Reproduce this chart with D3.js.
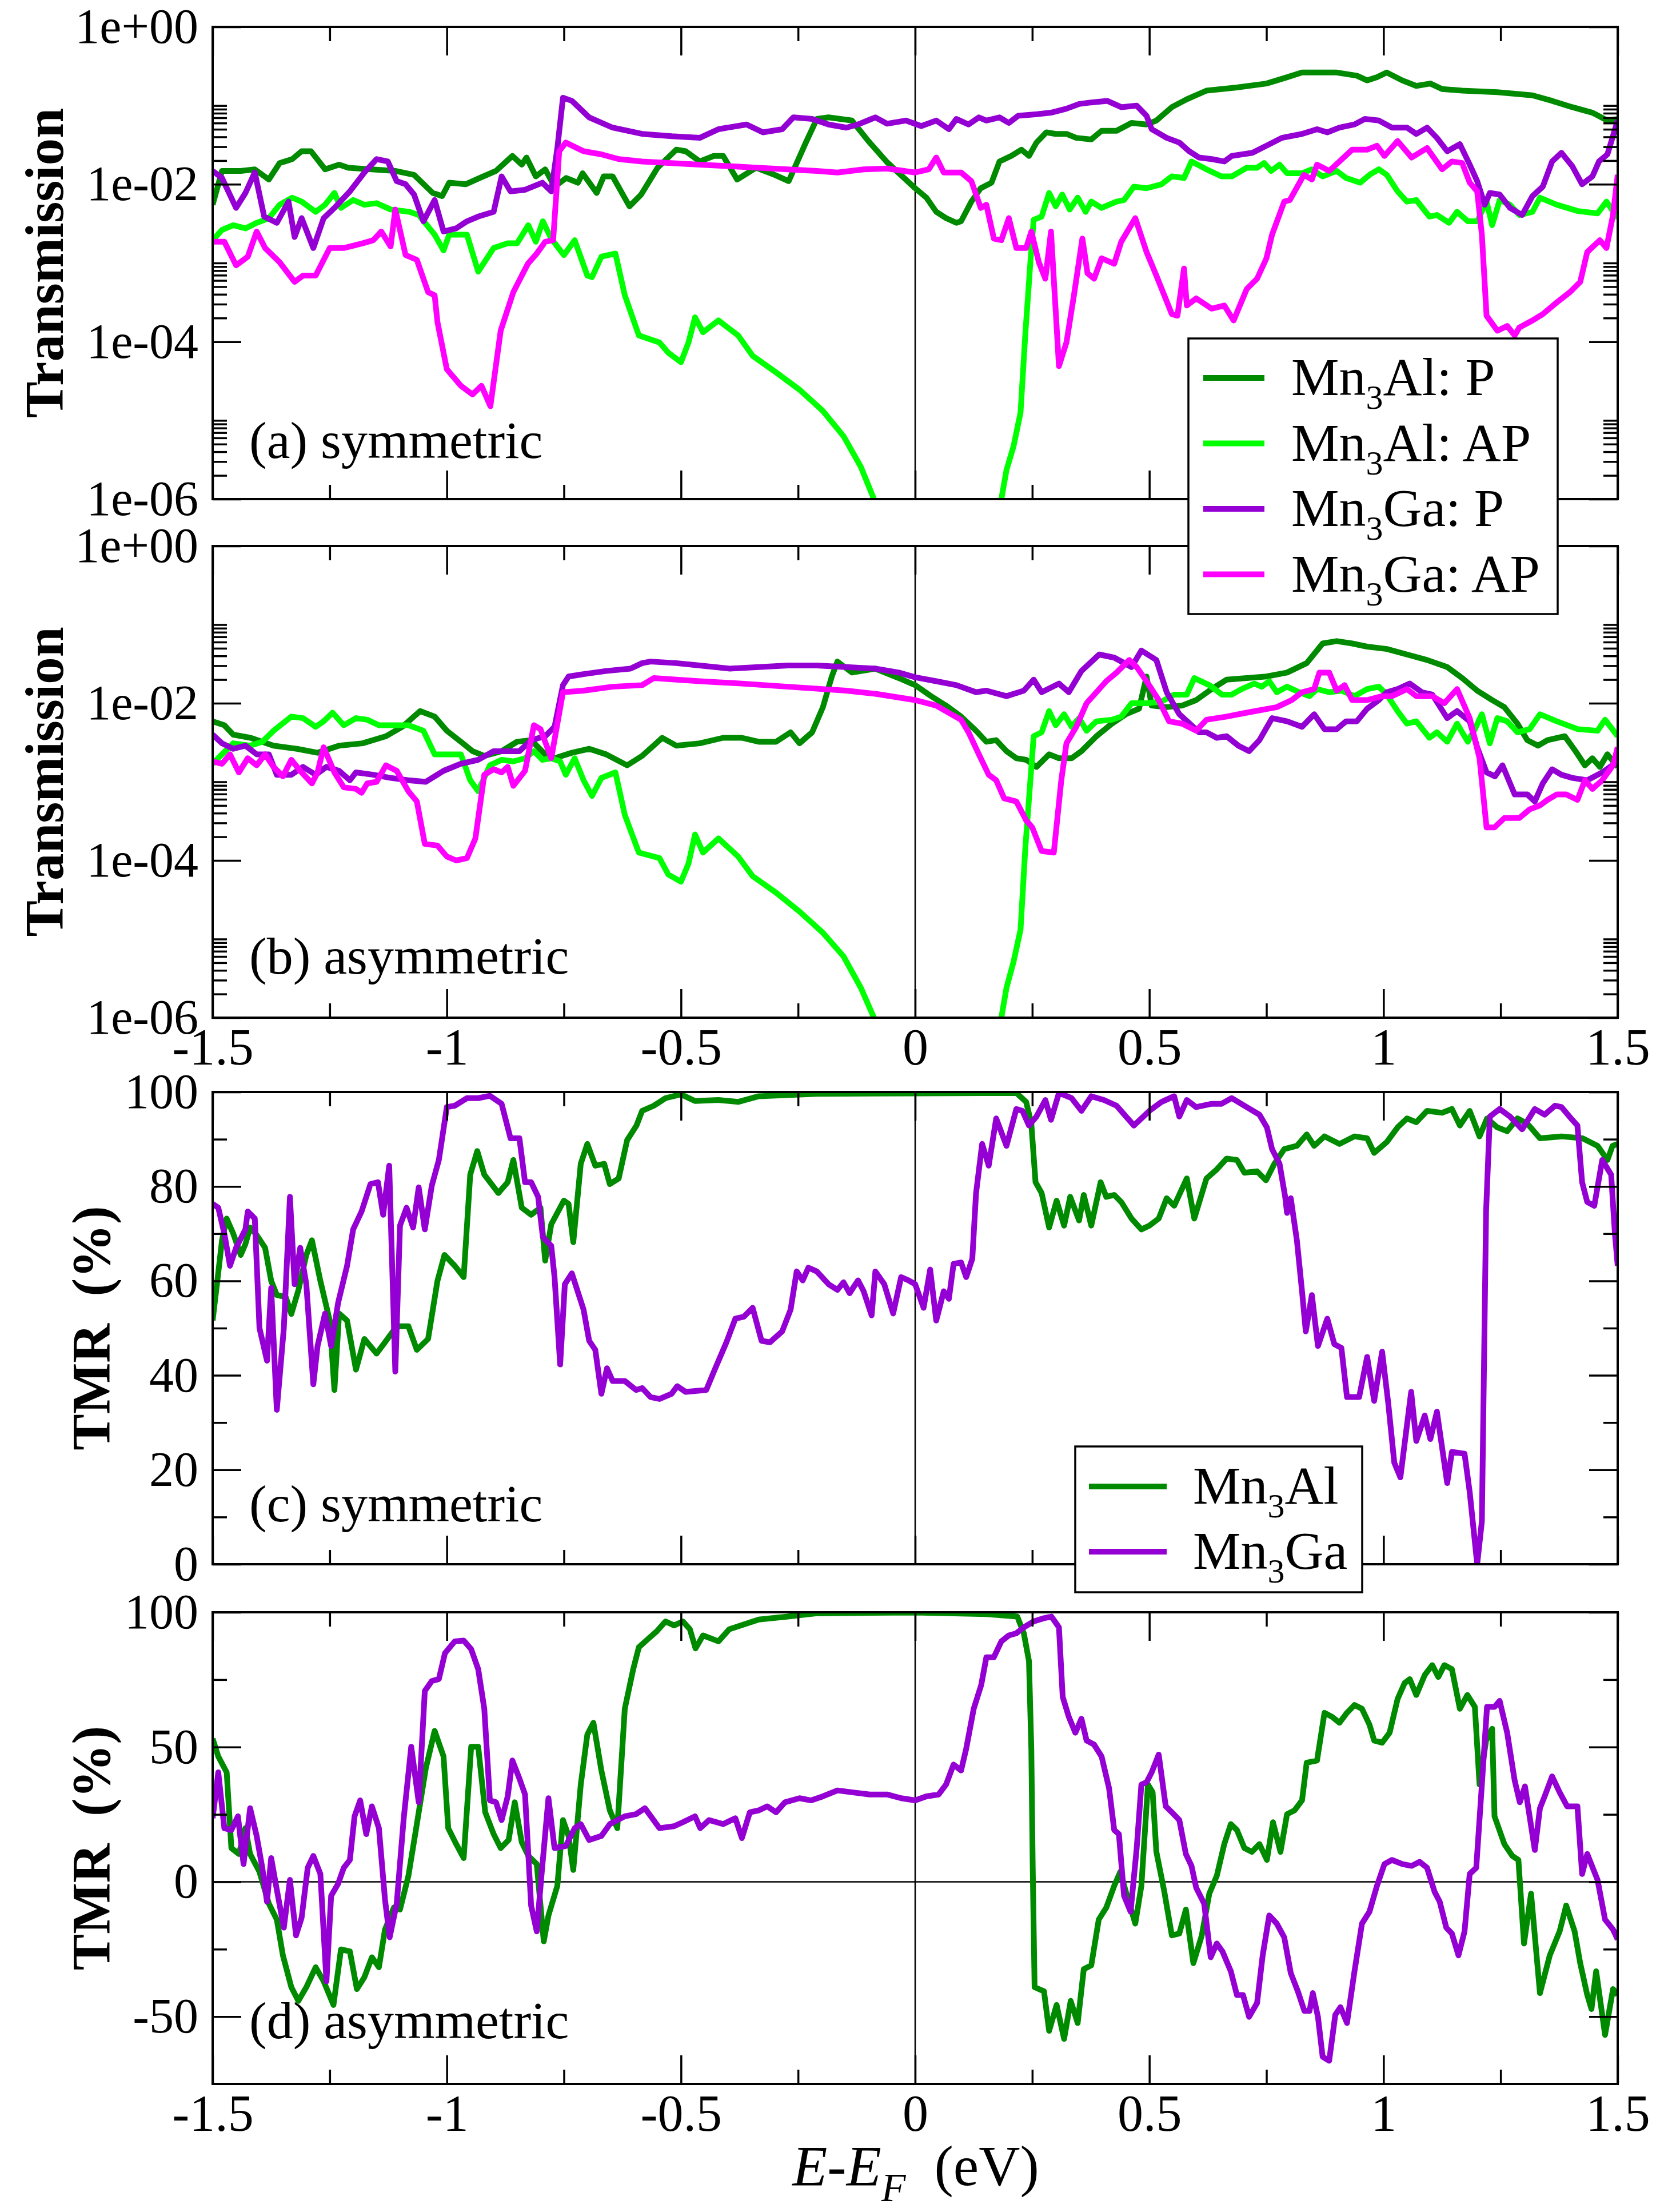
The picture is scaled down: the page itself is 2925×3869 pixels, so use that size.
<!DOCTYPE html>
<html>
<head>
<meta charset="utf-8">
<script src="https://cdn.jsdelivr.net/npm/d3@7/dist/d3.min.js"></script>
<style>
  body { margin: 0; background: #fff; }
  svg { display: block; }
</style>
</head>
<body>
<div id="chart"></div>
<script>
// ---- data: [E - E_F (eV), value]; transmission values are log10(T) ----
// (a) symmetric transmission
const symAlP = [[-1.5,-2.26],[-1.48,-1.83],[-1.44,-1.83],[-1.41,-1.81],[-1.38,-1.94],[-1.357,-1.73],[-1.33,-1.68],[-1.31,-1.58],[-1.29,-1.58],[-1.26,-1.81],[-1.23,-1.75],[-1.21,-1.79],[-1.16,-1.81],[-1.11,-1.83],[-1.07,-1.88],[-1.03,-2.11],[-1.01,-2.15],[-0.995,-1.98],[-0.96,-2.0],[-0.93,-1.92],[-0.895,-1.83],[-0.86,-1.64],[-0.84,-1.75],[-0.83,-1.66],[-0.81,-1.90],[-0.79,-1.81],[-0.77,-2.03],[-0.745,-1.92],[-0.72,-1.98],[-0.71,-1.86],[-0.68,-2.11],[-0.665,-1.90],[-0.646,-1.90],[-0.61,-2.28],[-0.585,-2.13],[-0.55,-1.79],[-0.51,-1.56],[-0.49,-1.58],[-0.46,-1.71],[-0.43,-1.64],[-0.41,-1.64],[-0.38,-1.94],[-0.34,-1.79],[-0.30,-1.88],[-0.27,-1.96],[-0.235,-1.49],[-0.21,-1.17],[-0.185,-1.15],[-0.135,-1.19],[-0.10,-1.45],[-0.06,-1.72],[0.0,-2.05],[0.024,-2.17],[0.045,-2.35],[0.066,-2.43],[0.088,-2.49],[0.098,-2.47],[0.12,-2.22],[0.14,-2.05],[0.163,-1.98],[0.18,-1.71],[0.205,-1.64],[0.227,-1.56],[0.243,-1.64],[0.259,-1.47],[0.28,-1.34],[0.30,-1.36],[0.323,-1.36],[0.344,-1.41],[0.376,-1.43],[0.398,-1.32],[0.43,-1.32],[0.462,-1.22],[0.494,-1.24],[0.515,-1.19],[0.548,-1.02],[0.58,-0.92],[0.622,-0.81],[0.687,-0.77],[0.75,-0.72],[0.794,-0.64],[0.826,-0.58],[0.90,-0.58],[0.943,-0.62],[0.965,-0.68],[0.986,-0.64],[1.007,-0.58],[1.04,-0.68],[1.07,-0.75],[1.10,-0.72],[1.125,-0.79],[1.168,-0.81],[1.243,-0.83],[1.318,-0.87],[1.36,-0.94],[1.403,-1.02],[1.446,-1.09],[1.478,-1.19],[1.50,-1.17]];
const symAlAP = [[-1.5,-2.71],[-1.48,-2.58],[-1.456,-2.52],[-1.43,-2.56],[-1.406,-2.49],[-1.38,-2.43],[-1.357,-2.26],[-1.33,-2.17],[-1.31,-2.22],[-1.28,-2.35],[-1.26,-2.26],[-1.24,-2.11],[-1.226,-2.30],[-1.20,-2.20],[-1.176,-2.26],[-1.15,-2.24],[-1.12,-2.32],[-1.08,-2.35],[-1.06,-2.39],[-1.026,-2.64],[-1.007,-2.84],[-0.995,-2.64],[-0.957,-2.64],[-0.933,-3.11],[-0.90,-2.81],[-0.87,-2.75],[-0.85,-2.75],[-0.826,-2.52],[-0.81,-2.73],[-0.795,-2.47],[-0.777,-2.69],[-0.75,-2.90],[-0.727,-2.71],[-0.70,-3.16],[-0.69,-3.18],[-0.67,-2.92],[-0.64,-2.88],[-0.62,-3.41],[-0.59,-3.92],[-0.546,-4.01],[-0.527,-4.14],[-0.50,-4.26],[-0.484,-4.01],[-0.47,-3.69],[-0.453,-3.88],[-0.42,-3.73],[-0.378,-3.92],[-0.347,-4.18],[-0.297,-4.39],[-0.247,-4.61],[-0.197,-4.88],[-0.153,-5.20],[-0.116,-5.59],[-0.088,-6.0],[-0.08,-6.3],[0.05,null],[0.178,-6.3],[0.184,-6.0],[0.195,-5.63],[0.21,-5.33],[0.225,-4.90],[0.235,-3.92],[0.246,-2.99],[0.253,-2.45],[0.27,-2.41],[0.286,-2.11],[0.30,-2.28],[0.314,-2.13],[0.33,-2.32],[0.347,-2.17],[0.364,-2.35],[0.376,-2.22],[0.398,-2.30],[0.43,-2.22],[0.446,-2.20],[0.467,-2.03],[0.494,-2.05],[0.526,-2.0],[0.548,-1.90],[0.574,-1.92],[0.59,-1.71],[0.622,-1.81],[0.654,-1.90],[0.676,-1.90],[0.708,-1.79],[0.73,-1.79],[0.745,-1.73],[0.76,-1.83],[0.778,-1.75],[0.794,-1.86],[0.826,-1.86],[0.847,-1.81],[0.87,-1.90],[0.90,-1.83],[0.92,-1.92],[0.95,-1.98],[0.97,-1.88],[0.99,-1.81],[1.007,-1.88],[1.03,-2.09],[1.05,-2.22],[1.07,-2.20],[1.098,-2.41],[1.114,-2.39],[1.14,-2.49],[1.157,-2.35],[1.18,-2.47],[1.20,-2.47],[1.22,-2.22],[1.232,-2.52],[1.248,-2.20],[1.27,-2.26],[1.29,-2.39],[1.318,-2.35],[1.334,-2.17],[1.37,-2.26],[1.415,-2.34],[1.457,-2.37],[1.476,-2.22],[1.50,-2.43]];
const symGaP = [[-1.5,-1.83],[-1.48,-1.92],[-1.45,-2.30],[-1.43,-2.11],[-1.41,-1.85],[-1.39,-2.41],[-1.363,-2.49],[-1.338,-2.22],[-1.325,-2.67],[-1.31,-2.43],[-1.285,-2.81],[-1.263,-2.43],[-1.24,-2.30],[-1.207,-2.09],[-1.176,-1.85],[-1.15,-1.68],[-1.126,-1.71],[-1.107,-1.96],[-1.088,-2.0],[-1.07,-2.13],[-1.05,-2.47],[-1.026,-2.20],[-1.007,-2.60],[-0.98,-2.56],[-0.957,-2.47],[-0.933,-2.41],[-0.90,-2.35],[-0.883,-1.90],[-0.864,-2.09],[-0.833,-2.07],[-0.796,-1.98],[-0.777,-2.09],[-0.764,-1.54],[-0.752,-0.90],[-0.733,-0.94],[-0.696,-1.15],[-0.646,-1.28],[-0.583,-1.36],[-0.52,-1.39],[-0.46,-1.41],[-0.42,-1.30],[-0.36,-1.24],[-0.325,-1.34],[-0.284,-1.30],[-0.26,-1.15],[-0.22,-1.17],[-0.185,-1.24],[-0.147,-1.28],[-0.122,-1.24],[-0.085,-1.15],[-0.06,-1.23],[-0.02,-1.19],[0.013,-1.26],[0.045,-1.19],[0.072,-1.30],[0.088,-1.17],[0.114,-1.24],[0.136,-1.15],[0.152,-1.19],[0.18,-1.15],[0.20,-1.22],[0.22,-1.13],[0.26,-1.11],[0.29,-1.09],[0.323,-1.04],[0.35,-0.98],[0.376,-0.96],[0.41,-0.94],[0.44,-1.02],[0.473,-1.0],[0.494,-1.13],[0.505,-1.30],[0.537,-1.41],[0.564,-1.47],[0.585,-1.58],[0.606,-1.66],[0.633,-1.68],[0.66,-1.71],[0.676,-1.64],[0.72,-1.60],[0.75,-1.51],[0.783,-1.41],[0.826,-1.36],[0.858,-1.30],[0.88,-1.34],[0.906,-1.28],[0.938,-1.24],[0.96,-1.17],[0.99,-1.19],[1.018,-1.28],[1.05,-1.28],[1.07,-1.36],[1.093,-1.28],[1.114,-1.41],[1.136,-1.58],[1.163,-1.49],[1.184,-1.75],[1.20,-1.96],[1.216,-2.26],[1.227,-2.11],[1.248,-2.13],[1.27,-2.30],[1.296,-2.39],[1.318,-2.15],[1.34,-2.03],[1.36,-1.71],[1.38,-1.60],[1.403,-1.77],[1.424,-2.0],[1.446,-1.90],[1.46,-1.71],[1.478,-1.62],[1.50,-1.19]];
const symGaAP = [[-1.5,-2.73],[-1.475,-2.73],[-1.45,-3.03],[-1.425,-2.92],[-1.406,-2.60],[-1.388,-2.81],[-1.357,-2.99],[-1.325,-3.24],[-1.307,-3.16],[-1.28,-3.16],[-1.25,-2.81],[-1.22,-2.81],[-1.18,-2.75],[-1.157,-2.71],[-1.14,-2.60],[-1.12,-2.79],[-1.11,-2.32],[-1.088,-2.90],[-1.064,-2.96],[-1.04,-3.37],[-1.026,-3.41],[-1.02,-3.75],[-1.0,-4.35],[-0.97,-4.56],[-0.945,-4.67],[-0.926,-4.56],[-0.907,-4.82],[-0.885,-3.86],[-0.858,-3.37],[-0.827,-3.01],[-0.808,-2.88],[-0.79,-2.73],[-0.773,-2.71],[-0.76,-1.58],[-0.746,-1.47],[-0.708,-1.58],[-0.67,-1.62],[-0.633,-1.68],[-0.583,-1.71],[-0.46,-1.75],[-0.334,-1.79],[-0.21,-1.83],[-0.166,-1.85],[-0.11,-1.81],[-0.06,-1.80],[0.0,-1.85],[0.029,-1.81],[0.045,-1.66],[0.061,-1.85],[0.098,-1.85],[0.12,-1.96],[0.14,-2.30],[0.152,-2.26],[0.168,-2.69],[0.184,-2.71],[0.20,-2.43],[0.216,-2.81],[0.237,-2.81],[0.248,-2.60],[0.264,-2.99],[0.278,-3.20],[0.29,-2.60],[0.307,-4.31],[0.323,-4.01],[0.339,-3.41],[0.357,-2.69],[0.368,-3.13],[0.382,-3.20],[0.398,-2.94],[0.425,-3.01],[0.44,-2.73],[0.47,-2.43],[0.494,-2.86],[0.515,-3.16],[0.548,-3.65],[0.56,-3.67],[0.574,-3.07],[0.58,-3.54],[0.60,-3.45],[0.633,-3.58],[0.66,-3.54],[0.68,-3.73],[0.708,-3.33],[0.73,-3.20],[0.75,-2.94],[0.762,-2.64],[0.788,-2.22],[0.80,-2.20],[0.83,-1.88],[0.847,-1.94],[0.858,-1.75],[0.884,-1.83],[0.906,-1.71],[0.933,-1.56],[0.965,-1.56],[0.986,-1.51],[1.002,-1.64],[1.03,-1.45],[1.06,-1.66],[1.093,-1.54],[1.125,-1.81],[1.146,-1.71],[1.168,-1.73],[1.184,-1.98],[1.20,-2.09],[1.21,-2.64],[1.22,-3.67],[1.243,-3.86],[1.264,-3.80],[1.28,-3.92],[1.29,-3.82],[1.318,-3.73],[1.34,-3.65],[1.37,-3.50],[1.398,-3.37],[1.42,-3.24],[1.435,-2.86],[1.462,-2.71],[1.476,-2.81],[1.49,-2.39],[1.50,-1.88]];

// (b) asymmetric transmission
const asymAlP = [[-1.5,-2.23],[-1.475,-2.28],[-1.456,-2.40],[-1.419,-2.44],[-1.37,-2.54],[-1.32,-2.58],[-1.276,-2.63],[-1.23,-2.54],[-1.18,-2.51],[-1.13,-2.42],[-1.095,-2.30],[-1.057,-2.10],[-1.026,-2.17],[-1.0,-2.35],[-0.97,-2.49],[-0.945,-2.61],[-0.92,-2.67],[-0.883,-2.61],[-0.85,-2.49],[-0.82,-2.47],[-0.79,-2.65],[-0.77,-2.70],[-0.733,-2.63],[-0.696,-2.58],[-0.66,-2.65],[-0.615,-2.79],[-0.583,-2.67],[-0.54,-2.44],[-0.51,-2.54],[-0.46,-2.51],[-0.41,-2.44],[-0.37,-2.44],[-0.334,-2.49],[-0.297,-2.49],[-0.266,-2.37],[-0.247,-2.51],[-0.22,-2.37],[-0.197,-2.05],[-0.178,-1.66],[-0.166,-1.47],[-0.135,-1.61],[-0.085,-1.56],[-0.035,-1.68],[0.0,-1.77],[0.034,-1.91],[0.066,-2.03],[0.098,-2.17],[0.13,-2.35],[0.152,-2.49],[0.173,-2.47],[0.195,-2.61],[0.216,-2.70],[0.237,-2.72],[0.259,-2.81],[0.286,-2.65],[0.307,-2.70],[0.334,-2.70],[0.355,-2.61],[0.387,-2.42],[0.42,-2.26],[0.45,-2.14],[0.478,-2.07],[0.494,-1.66],[0.505,-2.03],[0.537,-2.05],[0.57,-2.03],[0.60,-1.96],[0.633,-1.82],[0.665,-1.70],[0.708,-1.68],[0.75,-1.66],[0.794,-1.61],[0.836,-1.49],[0.87,-1.24],[0.90,-1.21],[0.933,-1.24],[0.965,-1.28],[1.007,-1.31],[1.05,-1.38],[1.093,-1.45],[1.136,-1.54],[1.168,-1.68],[1.2,-1.84],[1.232,-1.96],[1.258,-2.05],[1.286,-2.26],[1.307,-2.47],[1.33,-2.54],[1.35,-2.47],[1.387,-2.42],[1.41,-2.61],[1.43,-2.79],[1.446,-2.70],[1.462,-2.81],[1.478,-2.65],[1.50,-2.81]];
const asymAlAP = [[-1.5,-2.77],[-1.48,-2.65],[-1.456,-2.51],[-1.42,-2.54],[-1.394,-2.49],[-1.37,-2.35],[-1.332,-2.17],[-1.307,-2.19],[-1.28,-2.30],[-1.263,-2.23],[-1.244,-2.12],[-1.22,-2.28],[-1.194,-2.19],[-1.17,-2.21],[-1.145,-2.28],[-1.113,-2.28],[-1.082,-2.28],[-1.05,-2.35],[-1.026,-2.65],[-1.0,-2.65],[-0.97,-2.65],[-0.95,-2.98],[-0.933,-3.12],[-0.908,-2.79],[-0.883,-2.72],[-0.858,-2.74],[-0.833,-2.70],[-0.814,-2.61],[-0.796,-2.72],[-0.777,-2.70],[-0.758,-2.74],[-0.746,-2.91],[-0.727,-2.70],[-0.708,-2.98],[-0.69,-3.18],[-0.67,-2.95],[-0.64,-2.88],[-0.62,-3.42],[-0.59,-3.90],[-0.546,-3.97],[-0.527,-4.18],[-0.50,-4.27],[-0.484,-4.04],[-0.47,-3.67],[-0.453,-3.90],[-0.42,-3.72],[-0.378,-3.95],[-0.347,-4.20],[-0.297,-4.41],[-0.247,-4.65],[-0.197,-4.92],[-0.153,-5.22],[-0.116,-5.62],[-0.088,-6.0],[-0.08,-6.3],[0.05,null],[0.178,-6.3],[0.184,-6.0],[0.195,-5.62],[0.21,-5.29],[0.225,-4.88],[0.235,-3.86],[0.246,-2.98],[0.253,-2.42],[0.27,-2.37],[0.286,-2.10],[0.30,-2.28],[0.318,-2.14],[0.334,-2.30],[0.35,-2.19],[0.366,-2.35],[0.387,-2.23],[0.42,-2.21],[0.44,-2.17],[0.462,-2.0],[0.494,-2.0],[0.526,-1.98],[0.553,-1.89],[0.58,-1.89],[0.596,-1.68],[0.628,-1.77],[0.655,-1.89],[0.676,-1.89],[0.697,-1.82],[0.724,-1.75],[0.74,-1.79],[0.756,-1.72],[0.772,-1.86],[0.794,-1.79],[0.82,-1.86],[0.842,-1.91],[0.858,-1.82],[0.884,-1.86],[0.91,-1.84],[0.938,-1.91],[0.965,-1.82],[0.99,-1.79],[1.007,-1.89],[1.03,-2.10],[1.05,-2.26],[1.07,-2.23],[1.098,-2.44],[1.114,-2.37],[1.136,-2.49],[1.157,-2.26],[1.18,-2.49],[1.195,-2.33],[1.21,-2.14],[1.227,-2.51],[1.243,-2.19],[1.264,-2.23],[1.286,-2.37],[1.312,-2.33],[1.334,-2.14],[1.37,-2.23],[1.415,-2.33],[1.457,-2.35],[1.473,-2.21],[1.50,-2.42]];
const asymGaP = [[-1.5,-2.40],[-1.48,-2.51],[-1.456,-2.58],[-1.43,-2.54],[-1.406,-2.65],[-1.38,-2.65],[-1.363,-2.91],[-1.332,-2.91],[-1.307,-2.81],[-1.28,-2.91],[-1.257,-2.81],[-1.23,-2.86],[-1.207,-2.98],[-1.194,-2.88],[-1.157,-2.91],[-1.12,-2.95],[-1.082,-2.98],[-1.045,-3.0],[-1.007,-2.86],[-0.97,-2.77],[-0.933,-2.72],[-0.90,-2.61],[-0.87,-2.61],[-0.845,-2.61],[-0.82,-2.47],[-0.79,-2.42],[-0.77,-2.30],[-0.752,-1.77],[-0.74,-1.66],[-0.708,-1.63],[-0.66,-1.59],[-0.608,-1.56],[-0.583,-1.49],[-0.565,-1.47],[-0.51,-1.49],[-0.46,-1.52],[-0.396,-1.56],[-0.334,-1.54],[-0.272,-1.52],[-0.21,-1.52],[-0.147,-1.54],[-0.085,-1.56],[-0.035,-1.61],[0.0,-1.67],[0.045,-1.72],[0.088,-1.77],[0.13,-1.86],[0.152,-1.84],[0.195,-1.91],[0.232,-1.84],[0.253,-1.70],[0.27,-1.86],[0.307,-1.75],[0.328,-1.86],[0.355,-1.59],[0.393,-1.38],[0.425,-1.42],[0.462,-1.54],[0.483,-1.33],[0.515,-1.45],[0.537,-1.86],[0.564,-2.14],[0.59,-2.28],[0.606,-2.37],[0.622,-2.37],[0.644,-2.44],[0.665,-2.42],[0.69,-2.54],[0.713,-2.61],[0.735,-2.47],[0.762,-2.19],[0.794,-2.23],[0.826,-2.30],[0.852,-2.14],[0.874,-2.33],[0.90,-2.33],[0.92,-2.23],[0.943,-2.23],[0.965,-2.07],[0.99,-1.96],[1.007,-1.86],[1.03,-1.82],[1.056,-1.75],[1.082,-1.86],[1.104,-1.89],[1.136,-2.19],[1.157,-2.10],[1.184,-2.23],[1.20,-2.56],[1.22,-2.88],[1.238,-2.93],[1.254,-2.79],[1.28,-3.16],[1.307,-3.16],[1.323,-3.25],[1.34,-3.02],[1.36,-2.84],[1.38,-2.91],[1.403,-2.95],[1.435,-2.98],[1.467,-2.88],[1.50,-2.74]];
const asymGaAP = [[-1.5,-2.74],[-1.48,-2.77],[-1.463,-2.65],[-1.444,-2.88],[-1.425,-2.70],[-1.406,-2.79],[-1.388,-2.65],[-1.37,-2.81],[-1.35,-2.93],[-1.332,-2.72],[-1.313,-2.86],[-1.288,-3.02],[-1.276,-2.88],[-1.263,-2.56],[-1.24,-2.88],[-1.22,-3.07],[-1.194,-3.09],[-1.182,-3.14],[-1.17,-3.02],[-1.15,-3.0],[-1.13,-2.79],[-1.107,-2.86],[-1.082,-3.12],[-1.064,-3.25],[-1.047,-3.79],[-1.02,-3.81],[-1.0,-3.95],[-0.98,-4.0],[-0.957,-3.97],[-0.939,-3.72],[-0.92,-2.91],[-0.90,-2.84],[-0.883,-2.88],[-0.87,-2.81],[-0.858,-3.05],[-0.833,-2.86],[-0.814,-2.28],[-0.80,-2.33],[-0.777,-2.70],[-0.752,-1.86],[-0.708,-1.84],[-0.646,-1.79],[-0.583,-1.77],[-0.558,-1.68],[-0.51,-1.70],[-0.46,-1.72],[-0.37,-1.75],[-0.272,-1.79],[-0.147,-1.84],[-0.085,-1.88],[0.0,-1.96],[0.045,-2.03],[0.077,-2.14],[0.098,-2.21],[0.114,-2.37],[0.136,-2.65],[0.157,-2.91],[0.173,-2.98],[0.19,-3.21],[0.216,-3.25],[0.237,-3.49],[0.25,-3.58],[0.27,-3.88],[0.296,-3.90],[0.312,-2.98],[0.323,-2.51],[0.344,-2.30],[0.366,-2.0],[0.387,-1.86],[0.408,-1.72],[0.43,-1.61],[0.457,-1.45],[0.473,-1.54],[0.494,-1.72],[0.52,-1.96],[0.542,-2.23],[0.57,-2.26],[0.60,-2.35],[0.622,-2.21],[0.665,-2.17],[0.708,-2.12],[0.772,-2.05],[0.804,-1.96],[0.826,-1.86],[0.852,-1.82],[0.863,-1.61],[0.884,-1.61],[0.90,-1.84],[0.917,-1.77],[0.933,-1.96],[0.965,-1.96],[0.997,-1.91],[1.018,-1.91],[1.05,-1.82],[1.07,-1.91],[1.104,-1.91],[1.13,-2.0],[1.157,-1.82],[1.184,-2.19],[1.205,-2.70],[1.22,-3.58],[1.237,-3.58],[1.258,-3.46],[1.29,-3.46],[1.312,-3.35],[1.334,-3.30],[1.35,-3.23],[1.37,-3.16],[1.39,-3.16],[1.414,-3.23],[1.43,-2.98],[1.446,-3.09],[1.467,-2.98],[1.49,-2.79],[1.50,-2.56]];

// (c) symmetric TMR (%)
const tmrSymAl = [[-1.5,51.6],[-1.49,60],[-1.48,68.6],[-1.47,73.2],[-1.456,70],[-1.44,65.5],[-1.43,67.8],[-1.42,71.3],[-1.406,69.7],[-1.388,67],[-1.375,60],[-1.363,57],[-1.344,56.6],[-1.332,53],[-1.317,58],[-1.30,65.5],[-1.288,68.6],[-1.27,60],[-1.25,51.6],[-1.24,36.9],[-1.23,53.1],[-1.213,51.6],[-1.194,41.2],[-1.176,47.7],[-1.15,44.6],[-1.132,47],[-1.107,50.4],[-1.082,50.4],[-1.064,45.4],[-1.04,47.7],[-1.02,60],[-1.005,65.5],[-0.983,63.2],[-0.964,60.8],[-0.95,82.5],[-0.935,87.5],[-0.92,82.5],[-0.89,78.6],[-0.87,80.9],[-0.858,85.6],[-0.84,75.5],[-0.82,74],[-0.80,75.5],[-0.79,64.3],[-0.777,72],[-0.75,77],[-0.74,76.3],[-0.73,68.2],[-0.714,84.8],[-0.70,89],[-0.683,84.4],[-0.664,84.8],[-0.652,80.5],[-0.633,81.7],[-0.615,89.8],[-0.595,92.9],[-0.583,96],[-0.558,97.1],[-0.533,98.7],[-0.50,99.5],[-0.47,98.1],[-0.42,98.3],[-0.378,97.9],[-0.334,99.1],[-0.21,99.6],[0.0,99.7],[0.216,99.8],[0.237,97.9],[0.248,93.3],[0.257,80.9],[0.27,78.6],[0.286,71.3],[0.302,77],[0.318,71.7],[0.331,77.8],[0.35,72.8],[0.36,78.2],[0.376,71.7],[0.396,80.9],[0.408,77.8],[0.425,78.2],[0.44,76.7],[0.462,73.2],[0.483,70.9],[0.50,71.7],[0.52,73.2],[0.537,77.5],[0.553,75.9],[0.58,81.7],[0.596,73.2],[0.622,81.7],[0.644,83.6],[0.665,85.9],[0.687,85.6],[0.703,82.9],[0.73,83.2],[0.749,81.3],[0.767,84.8],[0.788,87.9],[0.815,88.6],[0.836,91],[0.852,88.6],[0.874,90.6],[0.906,89],[0.938,90.6],[0.965,90.2],[0.98,87.1],[1.007,89.4],[1.03,92.5],[1.05,94.4],[1.07,93.6],[1.093,96],[1.125,95.6],[1.146,96.4],[1.163,92.9],[1.184,96],[1.205,90.6],[1.221,94.4],[1.243,92.5],[1.264,91.7],[1.286,94.4],[1.307,93.3],[1.334,90.2],[1.38,90.6],[1.425,90.2],[1.457,88.6],[1.478,85.6],[1.489,88.6],[1.50,89]];
const tmrSymGa = [[-1.5,76.3],[-1.488,75.5],[-1.475,70],[-1.463,63.2],[-1.45,67],[-1.43,70.9],[-1.425,74.7],[-1.41,73.2],[-1.40,50],[-1.384,43.1],[-1.375,58.5],[-1.363,32.7],[-1.348,50],[-1.335,77.8],[-1.325,59.3],[-1.313,67],[-1.30,59.3],[-1.285,38.1],[-1.276,46.2],[-1.26,53.1],[-1.247,46.2],[-1.232,55.4],[-1.213,63.2],[-1.20,70.9],[-1.182,74.7],[-1.163,80.5],[-1.147,80.9],[-1.136,74],[-1.123,84.4],[-1.11,40.8],[-1.10,71.7],[-1.086,75.5],[-1.072,71.3],[-1.06,79.8],[-1.047,70.9],[-1.032,80.2],[-1.017,85.6],[-1.0,96.8],[-0.983,97.1],[-0.957,98.7],[-0.933,98.7],[-0.908,99.2],[-0.883,97.5],[-0.864,90.2],[-0.845,90.2],[-0.833,80.9],[-0.82,80.9],[-0.805,77.8],[-0.795,69.3],[-0.777,67.4],[-0.77,60.8],[-0.758,42.3],[-0.748,59.3],[-0.733,61.6],[-0.708,53.9],[-0.696,47.3],[-0.683,45.4],[-0.67,36.1],[-0.658,41.5],[-0.646,38.8],[-0.62,38.8],[-0.596,36.9],[-0.583,37.3],[-0.565,35.4],[-0.546,35],[-0.52,36.1],[-0.508,37.7],[-0.49,36.5],[-0.446,36.9],[-0.428,41.2],[-0.403,47],[-0.384,52],[-0.366,52.4],[-0.347,54.3],[-0.328,47.3],[-0.31,47],[-0.284,49.3],[-0.266,53.9],[-0.253,62],[-0.24,60.1],[-0.228,62.8],[-0.21,62],[-0.185,59.3],[-0.166,58.1],[-0.153,59.7],[-0.14,57.4],[-0.122,60.1],[-0.11,57.8],[-0.093,52.7],[-0.085,62],[-0.066,59.3],[-0.047,53.1],[-0.03,60.8],[-0.014,60.1],[0.0,59.3],[0.018,54.3],[0.032,62.4],[0.045,51.6],[0.061,57.8],[0.072,56.2],[0.082,63.6],[0.098,63.9],[0.109,60.8],[0.122,64.7],[0.13,78.6],[0.143,89],[0.157,84.4],[0.173,94.4],[0.195,88.6],[0.216,96.4],[0.229,96],[0.243,92.9],[0.259,94.8],[0.278,98.3],[0.29,94.1],[0.307,99.8],[0.334,98.7],[0.355,96],[0.376,99.1],[0.403,98.3],[0.43,97.1],[0.467,92.9],[0.50,96],[0.526,97.9],[0.553,99.1],[0.564,94.8],[0.58,98.3],[0.60,96.8],[0.633,97.5],[0.654,97.5],[0.676,98.7],[0.708,96.8],[0.735,95.2],[0.751,92.5],[0.762,87.9],[0.778,84.8],[0.79,77.8],[0.794,74.4],[0.802,77.5],[0.815,68.6],[0.826,57.8],[0.834,49.3],[0.847,57],[0.86,46.2],[0.88,52],[0.895,46.6],[0.91,45.8],[0.922,35.4],[0.948,35.4],[0.965,43.9],[0.98,34.6],[0.997,45],[1.01,34.2],[1.023,21.5],[1.036,18.4],[1.059,36.5],[1.07,26.1],[1.088,31.5],[1.10,26.5],[1.114,32.3],[1.136,17.2],[1.146,23.8],[1.173,23.4],[1.184,15.3],[1.20,0],[1.21,9.1],[1.219,74.7],[1.227,94.8],[1.248,96.4],[1.27,94.8],[1.296,92.1],[1.323,96.4],[1.344,95.2],[1.366,97.1],[1.38,96.8],[1.403,94.1],[1.414,92.9],[1.424,80.9],[1.435,76.7],[1.45,75.9],[1.467,85.6],[1.486,82.5],[1.494,70.1],[1.50,63.2]];

// (d) asymmetric TMR (%)
const tmrAsymAl = [[-1.5,53.1],[-1.488,46.5],[-1.47,40.6],[-1.46,12.5],[-1.444,10.3],[-1.43,19.9],[-1.42,10.3],[-1.40,3.7],[-1.38,-8.1],[-1.363,-14],[-1.35,-27.3],[-1.332,-39.1],[-1.317,-44.2],[-1.30,-39.1],[-1.28,-31.7],[-1.263,-36.9],[-1.242,-45.7],[-1.226,-25.1],[-1.207,-25.8],[-1.192,-39.8],[-1.176,-35.4],[-1.16,-28],[-1.145,-31.7],[-1.132,-17.7],[-1.113,-9.6],[-1.10,-10.3],[-1.082,2.2],[-1.064,21.4],[-1.045,42],[-1.026,56],[-1.007,46.5],[-0.997,19.9],[-0.98,14],[-0.964,8.8],[-0.948,50.1],[-0.933,50.1],[-0.918,25.8],[-0.90,17.7],[-0.885,12.5],[-0.868,15.5],[-0.855,29.5],[-0.84,14.7],[-0.826,9.6],[-0.808,6.6],[-0.793,-22.1],[-0.783,-12.5],[-0.764,-1.5],[-0.752,22.9],[-0.74,17],[-0.73,4.4],[-0.714,36.1],[-0.70,54.6],[-0.687,59],[-0.67,41.3],[-0.652,26.5],[-0.636,19.9],[-0.62,64.2],[-0.602,78.9],[-0.59,87],[-0.571,90],[-0.552,92.9],[-0.533,96.6],[-0.515,95.1],[-0.496,96.6],[-0.481,93.7],[-0.469,86.6],[-0.453,91.4],[-0.42,89.2],[-0.397,93.7],[-0.372,95.1],[-0.334,97.3],[-0.272,98.4],[-0.21,99.6],[0.0,99.9],[0.152,99.3],[0.218,98.4],[0.232,92.2],[0.243,81.9],[0.248,49.4],[0.251,5.2],[0.255,-39.1],[0.264,-39.8],[0.275,-40.6],[0.286,-55.3],[0.302,-45.7],[0.318,-58.3],[0.332,-44.2],[0.347,-52.4],[0.36,-32.4],[0.376,-31],[0.392,-14],[0.408,-9.6],[0.425,-1.5],[0.438,3.7],[0.451,-4.4],[0.47,-15.5],[0.483,-1.5],[0.497,36.1],[0.507,33.2],[0.515,11.1],[0.532,-3.7],[0.548,-19.9],[0.564,-19.2],[0.578,-10.3],[0.594,-30.2],[0.612,-19.9],[0.628,-4.4],[0.644,2.2],[0.66,14],[0.674,21.4],[0.687,19.2],[0.703,12.5],[0.719,11.1],[0.735,14],[0.751,8.1],[0.764,22.1],[0.78,11.1],[0.794,25.1],[0.81,26.5],[0.826,30.2],[0.836,44.2],[0.858,45],[0.874,62.7],[0.89,61.2],[0.906,59],[0.922,62.7],[0.938,65.6],[0.954,64.2],[0.97,58.3],[0.98,52.4],[0.997,51.6],[1.013,55.3],[1.03,67.8],[1.045,73.7],[1.056,75.2],[1.07,69.3],[1.088,76.7],[1.104,80.4],[1.117,76],[1.13,80.4],[1.146,78.9],[1.163,64.2],[1.179,69.3],[1.195,64.9],[1.205,36.1],[1.219,52.4],[1.232,56.8],[1.237,24.3],[1.258,14],[1.275,9.6],[1.288,8.1],[1.30,-22.9],[1.315,-4.4],[1.334,-41.3],[1.355,-27.3],[1.376,-18.4],[1.39,-8.8],[1.408,-18.4],[1.42,-30.2],[1.435,-42],[1.444,-47.2],[1.454,-33.2],[1.473,-56.8],[1.49,-39.8],[1.50,-42]];
const tmrAsymGa = [[-1.5,23.6],[-1.488,40.6],[-1.475,19.9],[-1.46,19.2],[-1.446,24.3],[-1.434,6.6],[-1.42,27.3],[-1.406,17],[-1.394,5.2],[-1.384,-7.4],[-1.375,8.8],[-1.363,-2.9],[-1.348,-17],[-1.335,0.7],[-1.322,-19.9],[-1.31,-13.3],[-1.297,5.2],[-1.285,9.6],[-1.27,2.9],[-1.257,-36.9],[-1.247,-5.2],[-1.232,-0.7],[-1.22,5.2],[-1.207,8.1],[-1.197,24.3],[-1.185,30.2],[-1.172,17.7],[-1.16,28],[-1.145,19.9],[-1.132,-6.6],[-1.122,-20.6],[-1.107,-8.1],[-1.092,23.6],[-1.076,50.1],[-1.06,29.5],[-1.047,70.8],[-1.032,74.5],[-1.017,75.2],[-1.004,84.8],[-0.983,89.2],[-0.964,89.5],[-0.948,86.3],[-0.933,78.9],[-0.92,64.2],[-0.908,30.2],[-0.895,29.5],[-0.883,22.9],[-0.87,31.7],[-0.86,45],[-0.845,38.3],[-0.833,32.4],[-0.82,-8.8],[-0.808,-18.4],[-0.798,2.2],[-0.783,31],[-0.77,12.5],[-0.746,13.3],[-0.727,19.9],[-0.714,21.4],[-0.696,15.5],[-0.67,17],[-0.652,21.4],[-0.62,24.3],[-0.596,25.1],[-0.577,27.3],[-0.546,19.9],[-0.515,20.6],[-0.496,22.1],[-0.47,24.3],[-0.459,19.9],[-0.44,22.9],[-0.41,21.4],[-0.384,23.6],[-0.37,16.2],[-0.353,25.8],[-0.334,26.5],[-0.316,28],[-0.297,25.8],[-0.278,29.5],[-0.247,31],[-0.222,30.2],[-0.197,31.7],[-0.166,33.9],[-0.135,33.2],[-0.097,32.4],[-0.06,32.4],[-0.03,31],[0.0,30.2],[0.024,31.7],[0.05,32.4],[0.066,36.1],[0.082,43.5],[0.098,41.3],[0.109,49.4],[0.125,64.2],[0.141,73],[0.152,83.3],[0.168,83.3],[0.184,89.2],[0.2,91.4],[0.216,92.2],[0.232,94.4],[0.253,96.6],[0.275,97.8],[0.291,98.4],[0.307,94.4],[0.315,68.6],[0.328,61.2],[0.342,55.3],[0.355,60.5],[0.366,52.4],[0.382,50.9],[0.398,46.5],[0.414,34.7],[0.425,19.2],[0.435,17.7],[0.446,-5.2],[0.46,-11.1],[0.473,12.5],[0.483,36.1],[0.494,36.9],[0.505,40.6],[0.52,47.2],[0.535,28],[0.548,25.8],[0.564,22.9],[0.578,10.3],[0.59,5.9],[0.6,-2.2],[0.617,-8.1],[0.631,-28],[0.644,-22.9],[0.656,-25.8],[0.674,-33.2],[0.687,-42],[0.7,-42],[0.713,-50.1],[0.73,-45],[0.742,-27.3],[0.756,-12.5],[0.772,-15.5],[0.788,-20.6],[0.802,-33.9],[0.817,-40.6],[0.831,-47.9],[0.842,-47.9],[0.849,-41.3],[0.86,-50.1],[0.87,-64.9],[0.884,-66.4],[0.897,-49.4],[0.908,-46.5],[0.922,-52.4],[0.938,-33.2],[0.954,-15.5],[0.97,-11.1],[0.986,-1.5],[1.002,6.6],[1.018,8.1],[1.04,6.6],[1.06,5.9],[1.077,7.4],[1.093,5.2],[1.109,-3.7],[1.12,-7.4],[1.134,-17],[1.146,-19.2],[1.16,-27.3],[1.173,-18.4],[1.184,2.9],[1.198,5.2],[1.21,36.1],[1.221,64.9],[1.237,64.9],[1.248,67.1],[1.264,55.3],[1.28,37.6],[1.291,29.5],[1.302,35.4],[1.323,11.8],[1.334,27.3],[1.344,31.7],[1.36,39.1],[1.376,33.2],[1.392,28],[1.414,28],[1.424,2.9],[1.435,10.3],[1.457,0.7],[1.473,-14],[1.49,-17.7],[1.50,-21.4]];

// ---- ticks and labels ----
const xMajor = [-1.5, -1, -0.5, 0, 0.5, 1, 1.5];
const xMajorLabels = ['-1.5', '-1', '-0.5', '0', '0.5', '1', '1.5'];
const xMinor = [-1.25, -0.75, -0.25, 0.25, 0.75, 1.25];
const logMajor = [1e-6, 1e-4, 1e-2, 1];
const logMajorLabels = ['1e-06', '1e-04', '1e-02', '1e+00'];
const tmrSymMajor = [0, 20, 40, 60, 80, 100];
const tmrSymMinor = [10, 30, 50, 70, 90];
const tmrAsymMajor = [-50, 0, 50, 100];
const tmrAsymMinor = [-25, 25, 75];

const legendTrans = [
  { base: 'Mn', sub: '3', rest: 'Al: P' },
  { base: 'Mn', sub: '3', rest: 'Al: AP' },
  { base: 'Mn', sub: '3', rest: 'Ga: P' },
  { base: 'Mn', sub: '3', rest: 'Ga: AP' }
];
const legendTmr = [
  { base: 'Mn', sub: '3', rest: 'Al' },
  { base: 'Mn', sub: '3', rest: 'Ga' }
];

const C_ALP = '#008a00', C_ALAP = '#00ff00', C_GAP = '#9400d3', C_GAAP = '#ff00ff';
const SERIF = "'Liberation Serif', 'Times New Roman', Times, serif";

// ---- layout ----
const W = 2925, H = 3869;
const X0 = 372, X1 = 2830;
const svg = d3.select('#chart').append('svg').attr('width', W).attr('height', H)
  .attr('font-family', SERIF);
svg.append('rect').attr('width', W).attr('height', H).attr('fill', '#fff');

const x = d3.scaleLinear().domain([-1.5, 1.5]).range([X0, X1]);

const panels = [
  { id: 'a', top: 47, bottom: 873, log: true, tag: '(a) symmetric', tagY: 801, xLabels: false,
    series: [[symAlP, C_ALP], [symAlAP, C_ALAP], [symGaP, C_GAP], [symGaAP, C_GAAP]] },
  { id: 'b', top: 955, bottom: 1780, log: true, tag: '(b) asymmetric', tagY: 1703, xLabels: true,
    series: [[asymAlP, C_ALP], [asymAlAP, C_ALAP], [asymGaP, C_GAP], [asymGaAP, C_GAAP]] },
  { id: 'c', top: 1910, bottom: 2736, log: false, domain: [0, 100], major: tmrSymMajor, minor: tmrSymMinor,
    tag: '(c) symmetric', tagY: 2661, xLabels: false,
    series: [[tmrSymAl, C_ALP], [tmrSymGa, C_GAP]] },
  { id: 'd', top: 2820, bottom: 3645, log: false, domain: [-75, 100], major: tmrAsymMajor, minor: tmrAsymMinor,
    tag: '(d) asymmetric', tagY: 3565, xLabels: true, zeroLine: true,
    series: [[tmrAsymAl, C_ALP], [tmrAsymGa, C_GAP]] }
];

function styleAxis(g, fontSize) {
  g.attr('font-family', SERIF).attr('font-size', fontSize);
  g.select('.domain').remove();
  g.selectAll('line').attr('stroke', '#000').attr('stroke-width', 3.5);
  g.selectAll('text').attr('fill', '#000')
    .style('font-family', SERIF).style('font-size', fontSize + 'px');
}

function serifText(sel) {
  return sel.attr('fill', '#000').style('font-family', SERIF);
}

panels.forEach(p => {
  const y = p.log
    ? d3.scaleLog().domain([1e-6, 1]).range([p.bottom, p.top])
    : d3.scaleLinear().domain(p.domain).range([p.bottom, p.top]);
  const yVal = p.log ? (d => y(Math.pow(10, d[1]))) : (d => y(d[1]));

  const g = svg.append('g').attr('class', 'panel-' + p.id);

  svg.append('clipPath').attr('id', 'clip-' + p.id)
    .append('rect').attr('x', X0).attr('y', p.top).attr('width', X1 - X0).attr('height', p.bottom - p.top);

  // zero reference lines
  g.append('line')
    .attr('x1', x(0)).attr('x2', x(0)).attr('y1', p.top).attr('y2', p.bottom)
    .attr('stroke', '#000').attr('stroke-width', 2.5);
  if (p.zeroLine) {
    g.append('line')
      .attr('x1', X0).attr('x2', X1).attr('y1', y(0)).attr('y2', y(0))
      .attr('stroke', '#000').attr('stroke-width', 2.5);
  }

  // curves
  const line = d3.line().defined(d => d[1] !== null).x(d => x(d[0])).y(yVal);
  g.append('g').attr('clip-path', 'url(#clip-' + p.id + ')')
    .selectAll('path').data(p.series).enter().append('path')
    .attr('d', d => line(d[0]))
    .attr('fill', 'none')
    .attr('stroke', d => d[1])
    .attr('stroke-width', 10)
    .attr('stroke-linejoin', 'round');

  // x axes (ticks inward, bottom and top)
  const xb = g.append('g').attr('transform', `translate(0,${p.bottom})`)
    .call(d3.axisBottom(x).tickValues(xMajor).tickSize(-50).tickPadding(18)
      .tickFormat((d, i) => p.xLabels ? xMajorLabels[i] : ''));
  styleAxis(xb, 90);
  styleAxis(g.append('g').attr('transform', `translate(0,${p.bottom})`)
    .call(d3.axisBottom(x).tickValues(xMinor).tickSize(-25).tickFormat('')), 90);
  styleAxis(g.append('g').attr('transform', `translate(0,${p.top})`)
    .call(d3.axisTop(x).tickValues(xMajor).tickSize(-50).tickFormat('')), 90);
  styleAxis(g.append('g').attr('transform', `translate(0,${p.top})`)
    .call(d3.axisTop(x).tickValues(xMinor).tickSize(-25).tickFormat('')), 90);

  // y axes
  let major, minor, fmt;
  if (p.log) {
    major = logMajor;
    minor = [];
    [-6, -4, -2].forEach(n => { for (let k = 2; k <= 10; k++) minor.push(k * Math.pow(10, n)); });
    fmt = (d, i) => logMajorLabels[i];
  } else {
    major = p.major;
    minor = p.minor;
    fmt = d => String(d);
  }
  const yl = g.append('g').attr('transform', `translate(${X0},0)`)
    .call(d3.axisLeft(y).tickValues(major).tickSize(-50).tickPadding(25).tickFormat(fmt));
  styleAxis(yl, 86);
  styleAxis(g.append('g').attr('transform', `translate(${X0},0)`)
    .call(d3.axisLeft(y).tickValues(minor).tickSize(-25).tickFormat('')), 86);
  styleAxis(g.append('g').attr('transform', `translate(${X1},0)`)
    .call(d3.axisRight(y).tickValues(major).tickSize(-50).tickFormat('')), 86);
  styleAxis(g.append('g').attr('transform', `translate(${X1},0)`)
    .call(d3.axisRight(y).tickValues(minor).tickSize(-25).tickFormat('')), 86);

  // frame
  g.append('rect')
    .attr('x', X0).attr('y', p.top).attr('width', X1 - X0).attr('height', p.bottom - p.top)
    .attr('fill', 'none').attr('stroke', '#000').attr('stroke-width', 4);

  // panel tag
  serifText(g.append('text')).attr('x', 436).attr('y', p.tagY)
    .style('font-size', '92px').text(p.tag);

  // y title
  const cy = (p.top + p.bottom) / 2;
  const tx = p.log ? 110 : 192;
  serifText(g.append('text'))
    .attr('transform', `translate(${tx},${cy}) rotate(-90)`)
    .attr('text-anchor', 'middle')
    .style('font-size', '95px').style('font-weight', 'bold')
    .text(p.log ? 'Transmission' : 'TMR\u00a0\u00a0(%)');
});

// x title
const xt = serifText(svg.append('text')).attr('x', 1602).attr('y', 3822)
  .attr('text-anchor', 'middle').style('font-size', '100px');
xt.append('tspan').style('font-style', 'italic').text('E-E');
xt.append('tspan').style('font-style', 'italic').style('font-size', '70px').attr('dy', 28).text('F');
xt.append('tspan').attr('dy', -28).text('\u00a0\u00a0(eV)');

// legends
function drawLegend(box, items, colors, y0, dyStep, lx0, lx1, tx) {
  const lg = svg.append('g');
  lg.append('rect').attr('x', box[0]).attr('y', box[1]).attr('width', box[2]).attr('height', box[3])
    .attr('fill', '#fff').attr('stroke', '#000').attr('stroke-width', 3.5);
  items.forEach((it, i) => {
    const yy = y0 + i * dyStep;
    lg.append('line').attr('x1', lx0).attr('x2', lx1).attr('y1', yy).attr('y2', yy)
      .attr('stroke', colors[i]).attr('stroke-width', 10);
    const t = serifText(lg.append('text')).attr('x', tx).attr('y', yy + 30).style('font-size', '94px');
    t.append('tspan').text(it.base);
    t.append('tspan').attr('dy', 24).style('font-size', '60px').text(it.sub);
    t.append('tspan').attr('dy', -24).text(it.rest);
  });
}
drawLegend([2079, 592, 646, 482], legendTrans, [C_ALP, C_ALAP, C_GAP, C_GAAP], 661, 114.5, 2105, 2212, 2259);
drawLegend([1881, 2530, 502, 255], legendTmr, [C_ALP, C_GAP], 2600, 114, 1905, 2041, 2087);
</script>
</body>
</html>
